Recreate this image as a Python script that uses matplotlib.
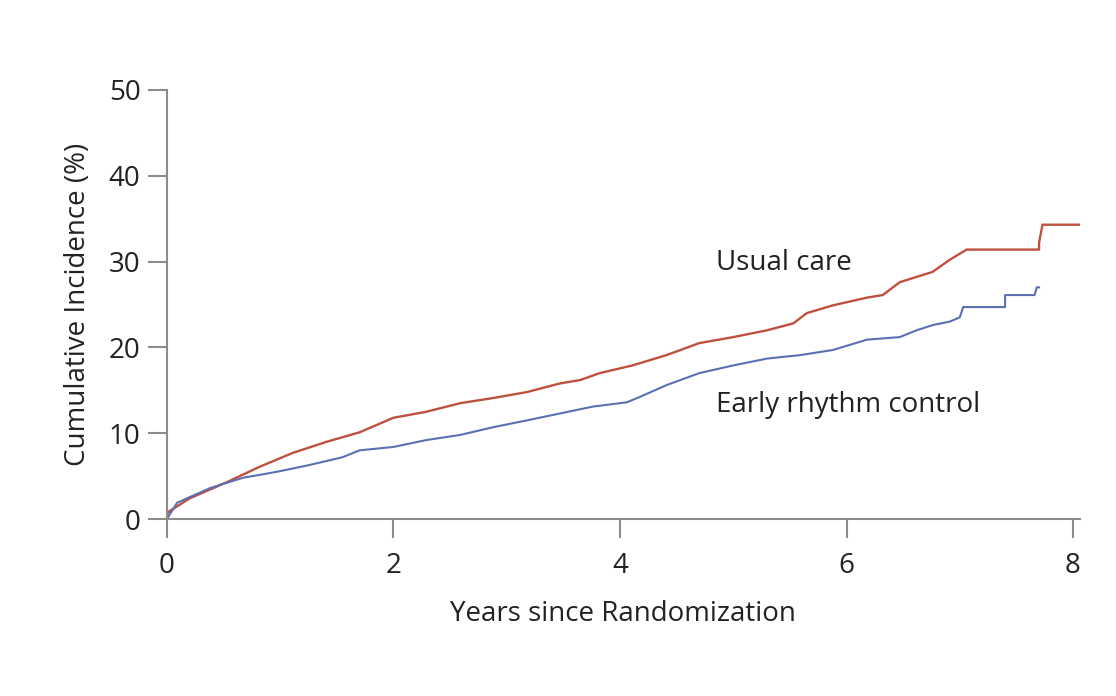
import matplotlib
matplotlib.use('Agg')
import matplotlib.pyplot as plt

# Usual care (red)
usual_x = [0.0, 0.02, 0.2, 0.53, 0.82, 1.11, 1.41, 1.70, 2.0, 2.29, 2.59, 2.88, 3.18, 3.47,
           3.65, 3.82, 4.11, 4.41, 4.70, 5.0, 5.30, 5.53, 5.65, 5.88, 6.18, 6.32, 6.47, 6.76,
           6.91, 7.06, 7.70, 7.70, 7.73, 8.08]
usual_y = [0.5, 0.9, 2.4, 4.3, 6.1, 7.7, 9.0, 10.1, 11.8, 12.5, 13.5, 14.1, 14.8, 15.8,
           16.2, 17.0, 17.9, 19.1, 20.5, 21.2, 22.0, 22.8, 24.0, 24.9, 25.8, 26.1, 27.6, 28.8,
           30.2, 31.4, 31.4, 32.2, 34.3, 34.3]

# Early rhythm control (blue)
early_x = [0.0, 0.09, 0.38, 0.67, 0.97, 1.26, 1.55, 1.70, 2.0, 2.29, 2.59, 2.88, 3.18, 3.47,
           3.76, 4.06, 4.17, 4.41, 4.70, 5.0, 5.30, 5.59, 5.88, 6.18, 6.47, 6.62, 6.76, 6.91,
           7.0, 7.03, 7.40, 7.40, 7.66, 7.68, 7.70]
early_y = [0.0, 1.9, 3.6, 4.8, 5.5, 6.3, 7.2, 8.0, 8.4, 9.2, 9.8, 10.7, 11.5, 12.3,
           13.1, 13.6, 14.2, 15.6, 17.0, 17.9, 18.7, 19.1, 19.7, 20.9, 21.2, 22.0, 22.6, 23.0,
           23.5, 24.7, 24.7, 26.1, 26.1, 27.0, 27.0]

x_ticks = [0, 2, 4, 6, 8]
y_ticks = [0, 10, 20, 30, 40, 50]

plt.rcParams['font.family'] = ['Open Sans', 'DejaVu Sans']

fig = plt.figure(figsize=(11.16, 6.96), dpi=100)
ax = fig.add_axes([0.1496, 0.2543, 0.818, 0.6164])

ax.plot(usual_x, usual_y, color='#c0503e', lw=1.7)
ax.plot(early_x, early_y, color='#5b6fb3', lw=1.5)

ax.set_xlim(0, 8.06)
ax.set_ylim(0, 50)
ax.set_xticks(x_ticks)
ax.set_yticks(y_ticks)

for s in ['top', 'right']:
    ax.spines[s].set_visible(False)
for s in ['left', 'bottom']:
    ax.spines[s].set_color('#8c8c8c')
    ax.spines[s].set_linewidth(1.5)
ax.tick_params(axis='both', colors='#8c8c8c', width=1.5, length=14,
               labelcolor='#222222', labelsize=20)
ax.tick_params(axis='x', pad=10)
ax.tick_params(axis='y', pad=5)

ax.set_xlabel('Years since Randomization', fontsize=20, color='#222222', labelpad=14)
ax.set_ylabel('Cumulative Incidence (%)', fontsize=20, color='#222222', labelpad=12)

ax.text(4.845, 29.8, 'Usual care', fontsize=20, color='#222222', va='center')
ax.text(4.845, 13.3, 'Early rhythm control', fontsize=20, color='#222222', va='center')

fig.savefig('out.png', dpi=100)
